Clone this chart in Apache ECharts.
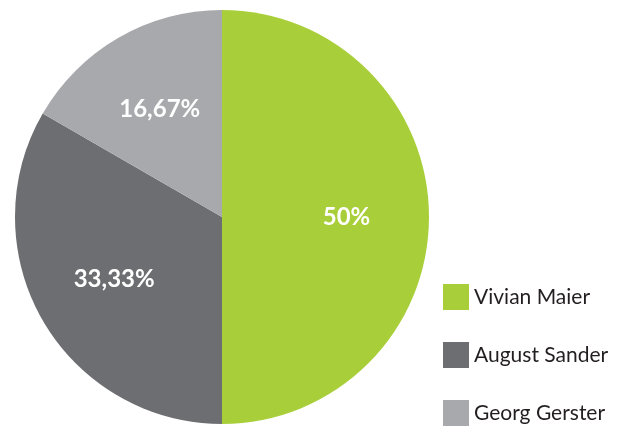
<!DOCTYPE html>
<html>
<head>
<meta charset="utf-8">
<script src="https://cdn.jsdelivr.net/npm/echarts@6/dist/echarts.min.js"></script>
<style>
  html, body { margin: 0; padding: 0; background: #fff; }
  #chart { width: 635px; height: 427px; }
</style>
</head>
<body>
<div id="chart"></div>
<script>
// photographers share
const names = ["Vivian Maier", "August Sander", "Georg Gerster"];
const values = [50, 33.33, 16.67];
const labels = ["50%", "33,33%", "16,67%"];
const colors = ["#a8cf3a", "#6d6e71", "#a7a9ac"];

const chart = echarts.init(document.getElementById("chart"));

const pieData = names.map((n, i) => ({
  name: n,
  value: values[i],
  itemStyle: { color: colors[i] },
}));

const option = {
  animation: false,
  color: colors,
  legend: {
    orient: "vertical",
    left: 443,
    top: 284,
    padding: 0,
    icon: "rect",
    itemWidth: 26,
    itemHeight: 26,
    itemGap: 32,
    data: names,
    textStyle: {
      fontFamily: "Lato",
      fontSize: 21,
      color: "#231f20",
    },
  },
  series: [
    {
      // slices
      type: "pie",
      center: [222, 217],
      radius: [0, 207],
      startAngle: 90,
      clockwise: true,
      label: { show: false },
      labelLine: { show: false },
      data: pieData,
    },
    {
      // label ring, pushes labels further out than the default inside spot
      type: "pie",
      center: [222, 217],
      radius: [36, 207],
      startAngle: 90,
      clockwise: true,
      silent: true,
      itemStyle: { color: "transparent" },
      label: {
        show: true,
        position: "inside",
        formatter: (p) => labels[p.dataIndex],
        color: "#fff",
        fontFamily: "Lato",
        fontWeight: "bold",
        fontSize: 24,
      },
      labelLine: { show: false },
      data: names.map((n, i) => ({ name: n, value: values[i] })),
    },
  ],
};

option && chart.setOption(option);
</script>
</body>
</html>
